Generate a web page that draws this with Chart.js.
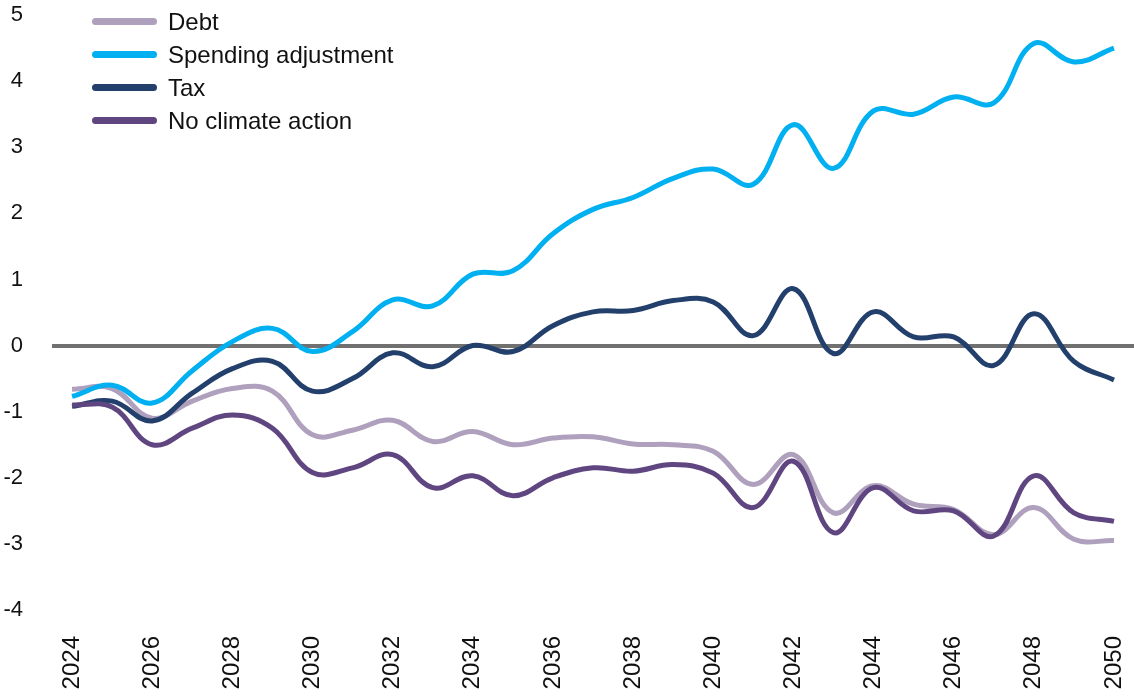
<!DOCTYPE html>
<html>
<head>
<meta charset="utf-8">
<script src="https://cdn.jsdelivr.net/npm/chart.js@4.4.1/dist/chart.umd.min.js"></script>
<style>
  html, body { margin: 0; padding: 0; background: #fff; }
  #wrap { position: relative; width: 1134px; height: 698px; }
  #legend { position: absolute; left: 92px; top: 5px; font-family: "Liberation Sans", Arial, sans-serif; font-size: 24px; color: #111; }
  .item { display: flex; align-items: center; height: 33px; }
  .swatch { width: 65px; height: 7px; border-radius: 4px; margin-right: 11px; }
</style>
</head>
<body>
<div id="wrap">
  <canvas id="grafico" width="1134" height="698"></canvas>
  <div id="legend"></div>
</div>
<script>
// Anos do eixo x
const anos = [2024, 2025, 2026, 2027, 2028, 2029, 2030, 2031, 2032, 2033, 2034, 2035, 2036,
    2037, 2038, 2039, 2040, 2041, 2042, 2043, 2044, 2045, 2046, 2047, 2048, 2049, 2050];

const debt = [-0.66, -0.65, -1.1, -0.84, -0.65, -0.69, -1.35, -1.28, -1.13, -1.45, -1.3, -1.5, -1.4,
    -1.38, -1.49, -1.5, -1.6, -2.1, -1.65, -2.53, -2.12, -2.4, -2.48, -2.86, -2.45, -2.93, -2.95];

const spending = [-0.77, -0.6, -0.87, -0.38, 0.06, 0.26, -0.09, 0.21, 0.69, 0.6, 1.08, 1.13, 1.69,
    2.06, 2.24, 2.53, 2.67, 2.44, 3.34, 2.68, 3.55, 3.5, 3.76, 3.67, 4.57, 4.29, 4.5];

const tax = [-0.92, -0.84, -1.14, -0.72, -0.35, -0.24, -0.69, -0.5, -0.11, -0.32, 0.0, -0.09, 0.3,
    0.51, 0.53, 0.68, 0.66, 0.15, 0.86, -0.12, 0.51, 0.13, 0.13, -0.3, 0.48, -0.24, -0.52];

const semAcao = [-0.9, -0.93, -1.5, -1.25, -1.05, -1.25, -1.92, -1.85, -1.65, -2.15, -1.97, -2.27, -2.0,
    -1.85, -1.9, -1.8, -1.93, -2.45, -1.75, -2.83, -2.15, -2.5, -2.5, -2.88, -1.97, -2.53, -2.66];

const nomes = ["Debt", "Spending adjustment", "Tax", "No climate action"];
const cores = ["#afa0bd", "#00b0f0", "#233f6c", "#5f4680"];
const series = [debt, spending, tax, semAcao];

const fonte = "'Liberation Sans', Arial, sans-serif";

// Monta os datasets (No climate action fica por cima)
const ordem = [3, 2, 1, 0];
const datasets = series.map((dados, i) => ({
    label: nomes[i],
    data: dados,
    borderColor: cores[i],
    borderWidth: 5,
    pointRadius: 0,
    tension: 0.4,
    fill: false,
    order: ordem[i],
}));

new Chart(document.getElementById("grafico"), {
    type: 'line',
    data: { labels: anos, datasets: datasets },
    options: {
        responsive: false,
        animation: false,
        layout: { padding: 0 },
        plugins: { legend: { display: false }, tooltip: { enabled: false } },
        scales: {
            x: {
                offset: true,
                // altura fixa do eixo e sem folga lateral
                afterFit: axis => {
                    axis.height = 88;
                    axis.paddingLeft = 0;
                    axis.paddingRight = 0;
                },
                grid: { display: false, drawTicks: false },
                border: { display: false },
                ticks: {
                    autoSkip: false,
                    minRotation: 90,
                    maxRotation: 90,
                    padding: 26,
                    color: '#111',
                    font: { family: fonte, size: 24 },
                    callback: function (val, idx) {
                        return idx % 2 === 0 ? this.getLabelForValue(val) : '';
                    }
                }
            },
            y: {
                min: -4,
                max: 5,
                afterFit: axis => {
                    axis.width = 52;
                    axis.paddingTop = 15;
                    axis.paddingBottom = 0;
                },
                border: { display: false },
                grid: {
                    drawTicks: false,
                    color: ctx => ctx.tick && ctx.tick.value === 0 ? '#707070' : 'rgba(0,0,0,0)',
                    lineWidth: ctx => ctx.tick && ctx.tick.value === 0 ? 4 : 0,
                },
                ticks: {
                    stepSize: 1,
                    padding: 29,
                    color: '#111',
                    font: { family: fonte, size: 22 }
                }
            }
        }
    }
});

// Legenda em HTML
const legenda = document.getElementById("legend");
nomes.forEach((nome, i) => {
    const item = document.createElement("div");
    item.className = "item";
    const swatch = document.createElement("span");
    swatch.className = "swatch";
    swatch.style.background = cores[i];
    const texto = document.createElement("span");
    texto.innerText = nome;
    item.appendChild(swatch);
    item.appendChild(texto);
    legenda.appendChild(item);
});
</script>
</body>
</html>
